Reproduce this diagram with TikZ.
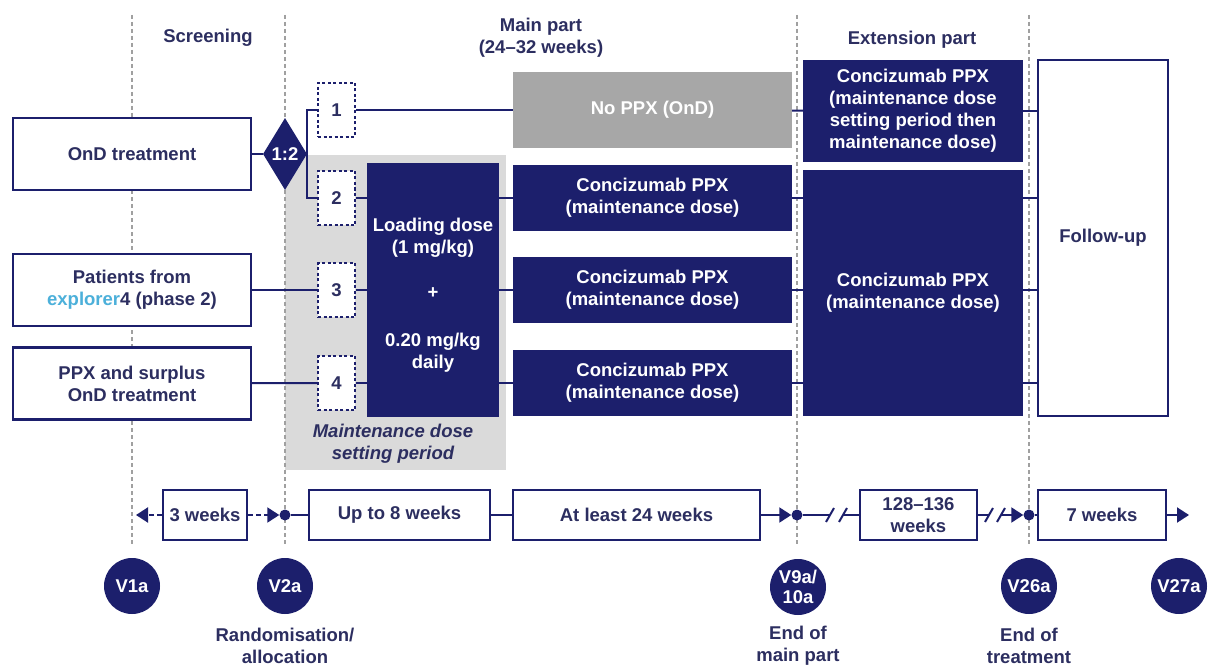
\documentclass[tikz,border=0pt]{standalone}
\usepackage{fontspec}
\setmainfont{Liberation Sans}
\usepackage{tikz}
\usepackage{xcolor}
\usetikzlibrary{arrows.meta,positioning,shapes.geometric,calc}
\definecolor{navy}{HTML}{1C1F6C}
\definecolor{inknavy}{HTML}{2C2E60}
\definecolor{offgrey}{HTML}{A7A7A7}
\definecolor{shadegrey}{HTML}{DADADA}
\definecolor{guidegrey}{HTML}{A0A0A0}
\definecolor{explblue}{HTML}{4CB0DA}
\newcommand{\dsgfont}{\fontsize{18.5}{22}\selectfont\bfseries}
\tikzset{
  sourcebox/.style={draw=navy,fill=white,line width=2.4pt,
                    minimum width=238pt,minimum height=72pt,
                    align=center,font=\dsgfont,text=inknavy,inner sep=2pt},
  armbox/.style={draw=navy,fill=white,line width=2pt,dash pattern=on 3pt off 2.5pt,
                 minimum width=37pt,minimum height=54pt,inner sep=0pt,
                 font=\dsgfont,text=inknavy},
  dosebox/.style={fill=navy,text=white,align=center,font=\dsgfont,inner sep=2pt},
  offbox/.style={fill=offgrey,text=white,align=center,font=\dsgfont,inner sep=2pt},
  fubox/.style={draw=navy,fill=white,line width=2.4pt,align=center,
                font=\dsgfont,text=inknavy},
  randdia/.style={diamond,fill=navy,text=white,font=\dsgfont,inner sep=0pt,
                  minimum width=44pt,minimum height=72pt},
  periodlabel/.style={align=center,font=\dsgfont,text=inknavy,inner sep=0pt},
  timebox/.style={draw=navy,fill=white,line width=2pt,minimum height=50pt,
                  align=center,font=\dsgfont,text=inknavy,inner sep=1pt},
  visit/.style={circle,fill=navy,text=white,minimum size=56pt,inner sep=0pt,
                align=center,font=\dsgfont},
  tdot/.style={circle,fill=navy,minimum size=11pt,inner sep=0pt},
  guide/.style={draw=guidegrey,line width=1.4pt,dash pattern=on 4pt off 3pt},
  link/.style={draw=navy,line width=2pt},
  dashlink/.style={draw=navy,line width=2pt,dash pattern=on 5pt off 3pt},
  tarr/.style={-{Triangle[length=12pt,width=15pt]}}
}

\begin{document}
\begin{tikzpicture}[x=1pt,y=-1pt]
  \path[use as bounding box,fill=white] (0,0) rectangle (1208,666);
  \fill[shadegrey] (285,155) rectangle (506,470);
  \foreach \gx in {132,285,797,1029}
    \draw[guide] (\gx,15) -- (\gx,545);

  \node[periodlabel] (scr) at (208,38) {Screening};
  \node[periodlabel] (mainp) at (541,38) {Main part\\(24--32 weeks)};
  \node[periodlabel] (extp) at (912,40) {Extension part};

  \node[sourcebox] (ond) at (132,154) {OnD treatment};
  \node[sourcebox] (expl) at (132,290) {Patients from\\{\color{explblue}explorer}4 (phase 2)};
  \node[sourcebox] (ppx) at (132,383.5) {PPX and surplus\\OnD treatment};
  \node[randdia] (rand) at (285,154) {1:2};

  \node[armbox] (a1) at (336.5,110) {1};
  \node[armbox] (a2) at (336.5,198) {2};
  \node[armbox] (a3) at (336.5,290) {3};
  \node[armbox] (a4) at (336.5,383) {4};

  \node[dosebox,minimum width=132pt,minimum height=254pt] (load) at (433,290)
    {\rule{0pt}{24pt}Loading dose\\(1 mg/kg)\\[23pt]+\\[26pt]0.20 mg/kg\\daily};
  \node[periodlabel,font=\dsgfont\itshape] (mds) at (393,444) {Maintenance dose\\setting period};

  \node[offbox,minimum width=279pt,minimum height=76pt] (nop) at (652.5,110) {No PPX (OnD)};
  \node[dosebox,minimum width=279pt,minimum height=66pt] (c2) at (652.5,198) {Concizumab PPX\\(maintenance dose)};
  \node[dosebox,minimum width=279pt,minimum height=66pt] (c3) at (652.5,290) {Concizumab PPX\\(maintenance dose)};
  \node[dosebox,minimum width=279pt,minimum height=66pt] (c4) at (652.5,383) {Concizumab PPX\\(maintenance dose)};

  \node[dosebox,minimum width=220pt,minimum height=102pt] (e1) at (913,111)
    {Concizumab PPX\\(maintenance dose\\setting period then\\maintenance dose)};
  \node[dosebox,minimum width=220pt,minimum height=246pt] (e2) at (913,293)
    {Concizumab PPX\\(maintenance dose)};
  \node[fubox,minimum width=130pt,minimum height=356pt] (fu) at (1103,238) {Follow-up};

  \draw[link] (ond) -- (rand);
  \draw[link] (a1.west) -| (rand.east) |- (a2.west);
  \draw[link] (expl) -- (a3);
  \draw[link] (ppx) -- (a4);
  \draw[link] (a1) -- (nop);
  \draw[link] (nop) -- (e1);
  \draw[link] (e1.east) -- (e1.east -| fu.west);
  \foreach \r in {2,3,4} {
    \draw[link] (a\r.east) -- (a\r.east -| load.west);
    \draw[link] (c\r.west -| load.east) -- (c\r.west);
    \draw[link] (c\r.east) -- (c\r.east -| e2.west);
    \draw[link] (c\r.east -| e2.east) -- (c\r.east -| fu.west);
  }

  \node[timebox,minimum width=84pt] (t3) at (205,515) {3 weeks};
  \node[tdot] (p2) at (285,515) {};
  \node[timebox,minimum width=181pt] (t8) at (399.5,515) {Up to 8 weeks};
  \node[timebox,minimum width=247pt] (t24) at (636.5,515) {At least 24 weeks};
  \node[tdot] (p9) at (797,515) {};
  \node[timebox,minimum width=117pt] (t128) at (918.5,515) {128--136\\weeks};
  \node[tdot] (p26) at (1029,515) {};
  \node[timebox,minimum width=128pt] (t7) at (1102,515) {7 weeks};
  \coordinate (tip1) at (136,515);
  \coordinate (tip27) at (1189,515);
  \coordinate (brkA) at (830,515);
  \coordinate (brkB) at (843,515);
  \coordinate (brkC) at (989,515);
  \coordinate (brkD) at (1001,515);

  \draw[dashlink,tarr] (t3) -- (tip1);
  \draw[dashlink,tarr] (t3) -- (p2);
  \draw[link] (p2) -- (t8);
  \draw[link] (t8) -- (t24);
  \draw[link,tarr] (t24) -- (p9);
  \draw[link] (p9) -- (brkA);
  \draw[link] (brkB) -- (t128);
  \draw[link] (t128) -- (brkC);
  \draw[link,tarr] (brkD) -- (p26);
  \draw[link] (p26) -- (t7);
  \draw[link,tarr] (t7) -- (tip27);
  \foreach \b in {brkA,brkB,brkC,brkD}
    \draw[link] ($(\b)+(-4,7)$) -- ($(\b)+(4,-7)$);

  \node[visit] (v1) at (132,586) {V1a};
  \node[visit] (v2) at (285,586) {V2a};
  \node[visit,font=\fontsize{18.5}{20}\selectfont\bfseries] (v9) at (798,587) {V9a/\\10a};
  \node[visit] (v26) at (1029,586) {V26a};
  \node[visit] (v27) at (1179,586) {V27a};

  \node[periodlabel] (v2lab) at (285,646) {Randomisation/\\allocation};
  \node[periodlabel] (v9lab) at (798,646) {End of\\main part};
  \node[periodlabel] (v26lab) at (1029,646) {End of\\treatment};
\end{tikzpicture}
\end{document}
